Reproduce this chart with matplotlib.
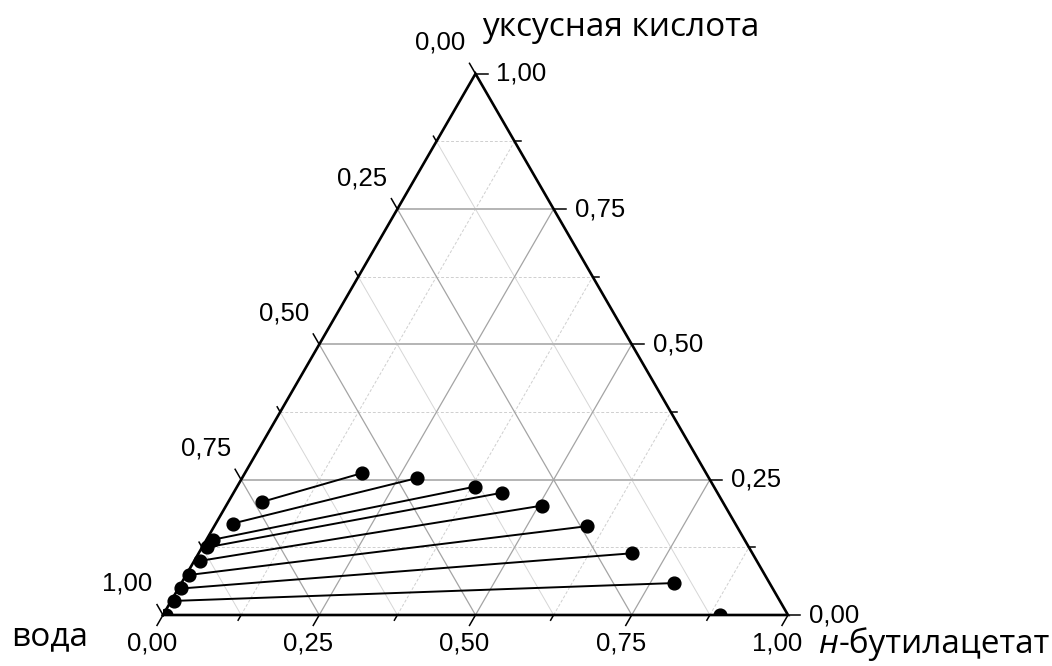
import numpy as np
import matplotlib
matplotlib.use("Agg")
import matplotlib.pyplot as plt

# Tie-line data for water / acetic acid / n-butyl acetate (mass fractions)
# Water-rich (raffinate) phase
raff_butyl = [0.054, 0.027, 0.010, 0.008, 0.009, 0.005, 0.005, 0.004, 0.004]
raff_acid = [0.209, 0.169, 0.139, 0.125, 0.100, 0.074, 0.049, 0.026, 0.000]
# Ester-rich (extract) phase
ext_butyl = [0.187, 0.280, 0.380, 0.430, 0.505, 0.596, 0.693, 0.788, 0.891]
ext_acid = [0.262, 0.253, 0.237, 0.226, 0.202, 0.164, 0.114, 0.059, 0.000]

tick_values = [0.0, 0.25, 0.5, 0.75, 1.0]
tick_labels = ["0,00", "0,25", "0,50", "0,75", "1,00"]
minor_values = [0.125, 0.375, 0.625, 0.875]

title_top = "уксусная кислота"
title_left = "вода"
title_right_italic = "н"
title_right_rest = "-бутилацетат"

H = np.sqrt(3) / 2


def to_xy(butyl, acid):
    """Ternary (butyl acetate, acetic acid) -> cartesian inside a unit triangle."""
    butyl = np.asarray(butyl, dtype=float)
    acid = np.asarray(acid, dtype=float)
    return butyl + acid / 2.0, acid * H


W, Hpx = 1052, 666
fig = plt.figure(figsize=(W / 100, Hpx / 100), dpi=100)
x0, y0, side = 163, 615, 625
ax = fig.add_axes([x0 / W, (Hpx - y0) / Hpx, side / W, side * H / Hpx])
ax.set_xlim(0, 1)
ax.set_ylim(0, H)
ax.set_axis_off()

TICK_FONT = dict(family=["Liberation Sans", "DejaVu Sans"], size=18.5, color="black")
TITLE_FONT = ["Open Sans", "DejaVu Sans"]
TITLE_SIZE = 24

major_col = "#a4a4a4"
minor_col = "#cfcfcf"

# grid lines
for v in minor_values:
    # constant acetic acid (horizontal), dashed
    xa, ya = to_xy([0, 1 - v], [v, v])
    ax.plot(xa, ya, color=minor_col, lw=0.7, ls=(0, (3, 2)), zorder=1)
    # constant butyl acetate (parallel to the left edge), dashed
    xb, yb = to_xy([v, v], [0, 1 - v])
    ax.plot(xb, yb, color=minor_col, lw=0.7, ls=(0, (3, 2)), zorder=1)
    # constant water (parallel to the right edge), solid light
    xc, yc = to_xy([1 - v, 0], [0, 1 - v])
    ax.plot(xc, yc, color="#d6d6d6", lw=0.7, zorder=1)

for v in tick_values[1:-1]:
    xa, ya = to_xy([0, 1 - v], [v, v])
    ax.plot(xa, ya, color="#b4b4b4", lw=1.4, zorder=1)
    xb, yb = to_xy([v, v], [0, 1 - v])
    ax.plot(xb, yb, color=major_col, lw=0.9, zorder=1)
    xc, yc = to_xy([1 - v, 0], [0, 1 - v])
    ax.plot(xc, yc, color=major_col, lw=0.9, zorder=1)

# triangle frame
tx, ty = to_xy([0, 1, 0, 0], [0, 0, 1, 0])
ax.plot(tx, ty, color="black", lw=1.9, zorder=5, clip_on=False,
        solid_joinstyle="miter")

# ticks (lengths in axes units; 1 unit = 625 px)
maj_len = 12 / side
min_len = 6 / side
dir_bottom = np.array([-0.5, -H])   # down-left
dir_right = np.array([1.0, 0.0])    # right
dir_left = np.array([-0.5, H])      # up-left

all_ticks = [(v, maj_len) for v in tick_values] + [(v, min_len) for v in minor_values]
for v, ln in all_ticks:
    # bottom axis: butyl acetate
    p = np.array(to_xy(v, 0.0))
    q = p + dir_bottom * ln
    ax.plot([p[0], q[0]], [p[1], q[1]], color="black", lw=1.1, clip_on=False, zorder=5)
    # right axis: acetic acid
    p = np.array(to_xy(1 - v, v))
    q = p + dir_right * ln
    ax.plot([p[0], q[0]], [p[1], q[1]], color="black", lw=1.1, clip_on=False, zorder=5)
    # left axis: water (0 at the top vertex)
    p = np.array(to_xy(0.0, 1 - v))
    q = p + dir_left * ln
    ax.plot([p[0], q[0]], [p[1], q[1]], color="black", lw=1.1, clip_on=False, zorder=5)

# tick labels
for v, lab in zip(tick_values, tick_labels):
    ax.annotate(lab, xy=to_xy(v, 0.0), xytext=(-11, -29), textcoords="offset pixels",
                ha="center", va="center", annotation_clip=False, **TICK_FONT)
    ax.annotate(lab, xy=to_xy(1 - v, v), xytext=(21, 0), textcoords="offset pixels",
                ha="left", va="center", annotation_clip=False, **TICK_FONT)
    ax.annotate(lab, xy=to_xy(0.0, 1 - v), xytext=(-35.5, 31), textcoords="offset pixels",
                ha="center", va="center", annotation_clip=False, **TICK_FONT)

# axis titles
ax.annotate(title_top, xy=to_xy(0, 1), xytext=(6.5, 38), textcoords="offset pixels",
            ha="left", va="baseline", fontsize=TITLE_SIZE, family=TITLE_FONT,
            annotation_clip=False)
ax.annotate(title_left, xy=to_xy(0, 0), xytext=(-151.5, -30), textcoords="offset pixels",
            ha="left", va="baseline", fontsize=TITLE_SIZE, family=TITLE_FONT,
            annotation_clip=False)
t_it = ax.annotate(title_right_italic, xy=to_xy(1, 0), xytext=(30, -38),
                   textcoords="offset pixels", ha="left", va="baseline",
                   fontsize=TITLE_SIZE, family=TITLE_FONT, style="italic",
                   annotation_clip=False)
ax.annotate(title_right_rest, xy=(1, 0), xycoords=t_it, xytext=(1, 0),
            textcoords="offset pixels", ha="left", va="bottom",
            fontsize=TITLE_SIZE, family=TITLE_FONT, annotation_clip=False)

# tie lines and phase compositions
rx, ry = to_xy(raff_butyl, raff_acid)
ex, ey = to_xy(ext_butyl, ext_acid)
for i in range(len(rx)):
    ax.plot([rx[i], ex[i]], [ry[i], ey[i]], color="black", lw=1.4, zorder=3)
ax.plot(rx, ry, "o", color="black", ms=9.2, zorder=4)
ax.plot(ex, ey, "o", color="black", ms=9.2, zorder=4)

fig.savefig("out.png", dpi=100)
